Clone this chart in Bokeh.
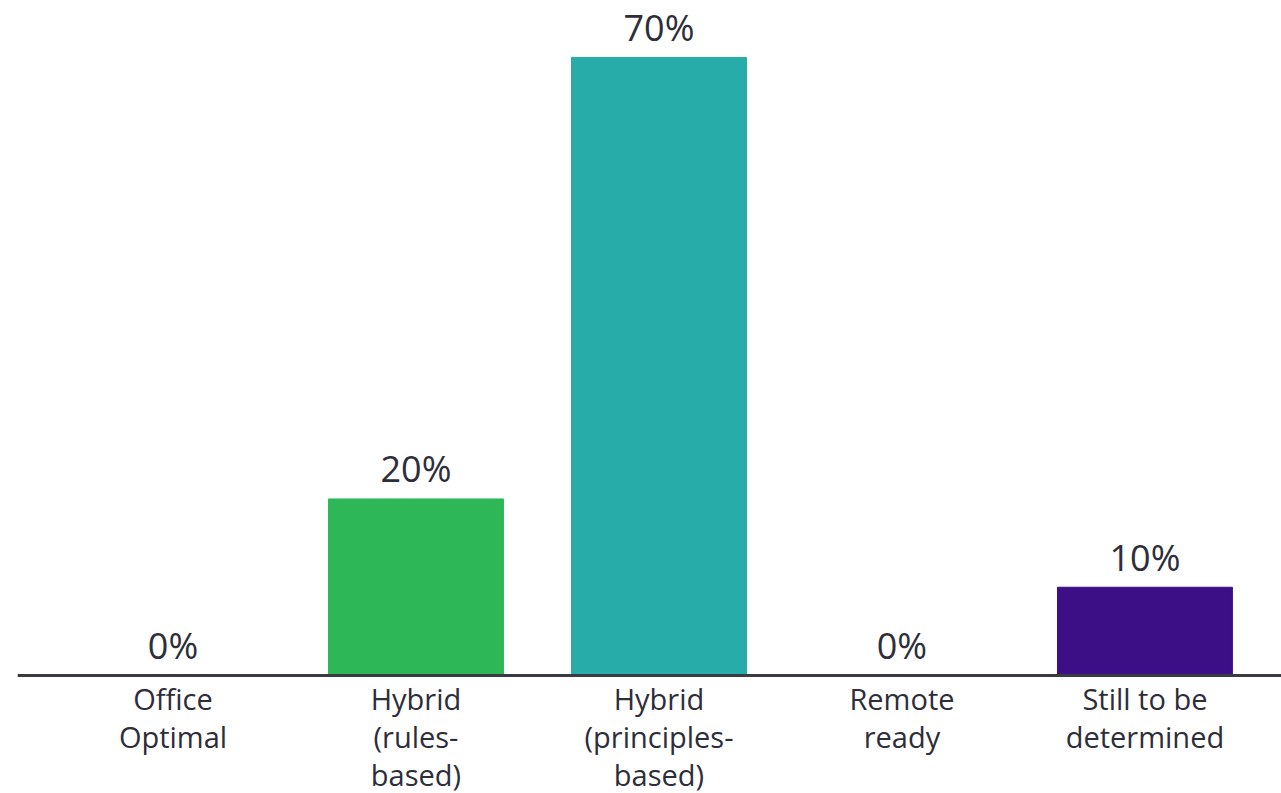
from bokeh.plotting import figure
from bokeh.models import ColumnDataSource, Range1d, Span
from bokeh.core.properties import value
from bokeh.embed import file_html
from bokeh.resources import INLINE

categories = ["Office\nOptimal", "Hybrid\n(rules-\nbased)", "Hybrid\n(principles-\nbased)", "Remote\nready", "Still to be\ndetermined"]
values = [0, 20, 70, 0, 10]
colors = ["#2DB757", "#2DB757", "#27ACA9", "#27ACA9", "#3D0F87"]
value_labels = [f"{v}%" for v in values]

xs = list(range(len(categories)))
src = ColumnDataSource(dict(x=xs, top=values, color=colors, vlab=value_labels, cat=categories, zero=[0]*len(xs)))

p = figure(width=1281, height=793, output_backend="svg", toolbar_location=None,
           x_range=Range1d(-0.64, 4.562), y_range=Range1d(-13.36, 76.45),
           min_border_left=17, min_border_right=0, min_border_top=0, min_border_bottom=0)
p.axis.visible = False
p.grid.visible = False
p.outline_line_color = None
p.background_fill_color = "white"

p.vbar(x="x", top="top", bottom=0, width=0.72, color="color", source=src)

p.add_layout(Span(location=0, dimension="width", line_color="#3a3a42", line_width=3))

p.text(x="x", y="top", text="vlab", source=src, text_align="center", text_baseline="alphabetic",
       y_offset=-30, text_font=value("Open Sans"), text_font_size="36px", text_color="#2e2d3a")

p.text(x="x", y="zero", text="cat", source=src, text_align="center", text_baseline="top",
       y_offset=3, text_font=value("Open Sans"), text_font_size="29px", text_color="#2e2d3a",
       text_line_height=0.98)

open("out.html", "w").write(file_html(p, INLINE))
